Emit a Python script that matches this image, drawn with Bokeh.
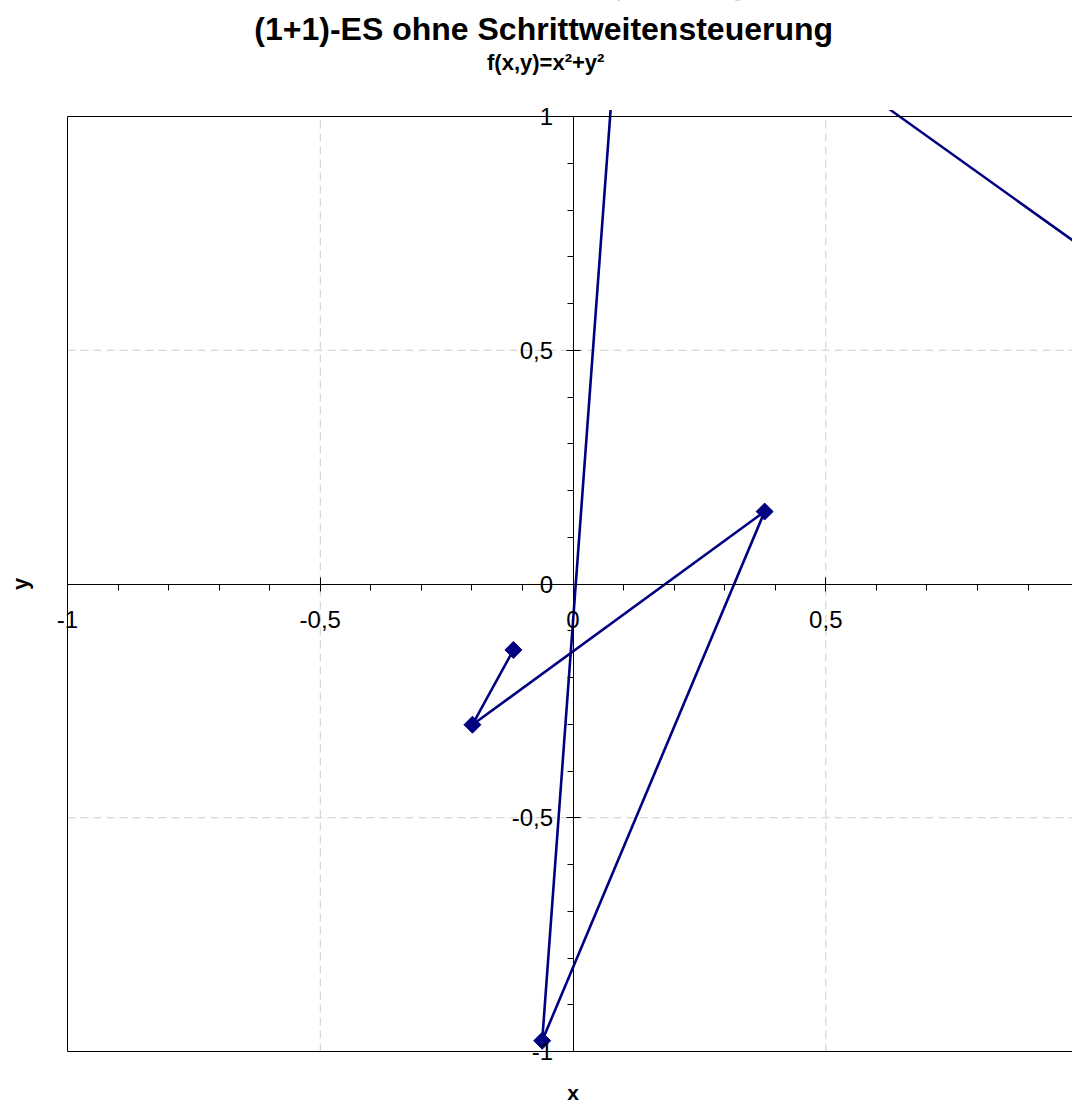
import math
from bokeh.plotting import figure
from bokeh.models import (Range1d, LinearAxis, FixedTicker, Label, BoxAnnotation,
                          CustomJSTickFormatter)
from bokeh.embed import file_html
from bokeh.resources import INLINE

title_text = "(1+1)-ES ohne Schrittweitensteuerung"
subtitle_text = "f(x,y)=x²+y²"
x_label = "x"
y_label = "y"

# search path of the (1+1)-ES
path_x = [-0.118, -0.199, 0.379, -0.061, 0.102, 1.5]
path_y = [-0.141, -0.301, 0.155, -0.977, 1.421, 0.339]

# plot-area extent, ticks and grid
box = [-1, 1]
major_ticks = [-1, -0.5, 0, 0.5, 1]
minor_ticks = [-0.9, -0.8, -0.7, -0.6, -0.4, -0.3, -0.2, -0.1,
               0.1, 0.2, 0.3, 0.4, 0.6, 0.7, 0.8, 0.9]
grid_ticks = [-0.5, 0.5]

FONT = "Liberation Sans"
NAVY = "#000080"

# The frame covers the whole canvas; the visible plot box is [-1,1]x[-1,1]
W, H = 1072, 1106
box_left_px, box_right_px = 67, 1072
box_top_px, box_bottom_px = 116, 1051
visible_x_end = 0.988
sx = (box_right_px - box_left_px) / (visible_x_end - box[0])
sy = (box_bottom_px - box_top_px) / (box[1] - box[0])
x_start = box[0] - box_left_px / sx
x_end = visible_x_end
y_end = box[1] + box_top_px / sy
y_start = box[0] - (H - box_bottom_px) / sy

p = figure(width=W, height=H,
           x_range=Range1d(x_start, x_end), y_range=Range1d(y_start, y_end),
           output_backend="svg", toolbar_location=None,
           x_axis_location=None, y_axis_location=None,
           min_border=0)
p.outline_line_color = None
p.background_fill_color = "white"
p.border_fill_color = "white"
p.center = []

# dashed grid lines inside the plot box
n = len(grid_ticks)
p.segment(x0=grid_ticks, y0=[box[0]] * n, x1=grid_ticks, y1=[box[1]] * n,
          line_color="#cccccc", line_dash="8 5", line_width=1)
p.segment(x0=[box[0]] * n, y0=grid_ticks, x1=[box[1]] * n, y1=grid_ticks,
          line_color="#cccccc", line_dash="8 5", line_width=1)

# search path
p.line(path_x, path_y, line_color=NAVY, line_width=2.6)
p.scatter(path_x, path_y, marker="square", size=12, angle=math.pi / 4,
          fill_color=NAVY, line_color=NAVY, line_join="round")

# white mask above the plot box (the path is clipped at the top edge)
p.quad(left=[x_start - 0.1], right=[x_end + 0.1], bottom=[box[1] + 0.014],
       top=[y_end + 0.2], fill_color="white", line_color=None)

fmt = CustomJSTickFormatter(code="return tick.toString().replace('.', ',');")

def make_axis(standoff):
    return LinearAxis(fixed_location=0, bounds=(box[0], box[1]),
                      ticker=FixedTicker(ticks=major_ticks, minor_ticks=minor_ticks),
                      formatter=fmt,
                      axis_line_color="black", axis_line_width=1,
                      major_tick_in=7, major_tick_out=7,
                      major_tick_line_color="black",
                      minor_tick_in=0, minor_tick_out=6,
                      minor_tick_line_color="black",
                      major_label_standoff=standoff,
                      major_label_text_font=FONT,
                      major_label_text_font_size="24px",
                      major_label_text_color="black")

p.add_layout(make_axis(20), "below")
p.add_layout(make_axis(13), "left")

# plot box border
p.add_layout(BoxAnnotation(left=box[0], right=box[1], bottom=box[0], top=box[1],
                           fill_color=None, fill_alpha=0, line_color="black",
                           line_alpha=1, line_width=1, level="guide"))

# white band behind the titles
p.add_layout(BoxAnnotation(bottom=box[1] + 0.05, fill_color="white", fill_alpha=1,
                           line_color=None, level="annotation"))

p.add_layout(Label(x=-0.058, y=1.188, text=title_text, text_align="center",
                   text_baseline="middle", text_font=FONT, text_font_style="bold",
                   text_font_size="32px", text_color="black"))
p.add_layout(Label(x=-0.054, y=1.115, text=subtitle_text, text_align="center",
                   text_baseline="middle", text_font=FONT, text_font_style="bold",
                   text_font_size="22px", text_color="black"))
p.add_layout(Label(x=0.0, y=box[0] - (1092 - box_bottom_px) / sy, text=x_label,
                   text_align="center", text_baseline="middle", text_font=FONT,
                   text_font_style="bold", text_font_size="21px", text_color="black"))
p.add_layout(Label(x=-1.093, y=0.0, text=y_label, text_align="center",
                   text_baseline="middle", angle=math.pi / 2, text_font=FONT,
                   text_font_style="bold", text_font_size="22px", text_color="black"))

open("out.html", "w").write(file_html(p, INLINE))
